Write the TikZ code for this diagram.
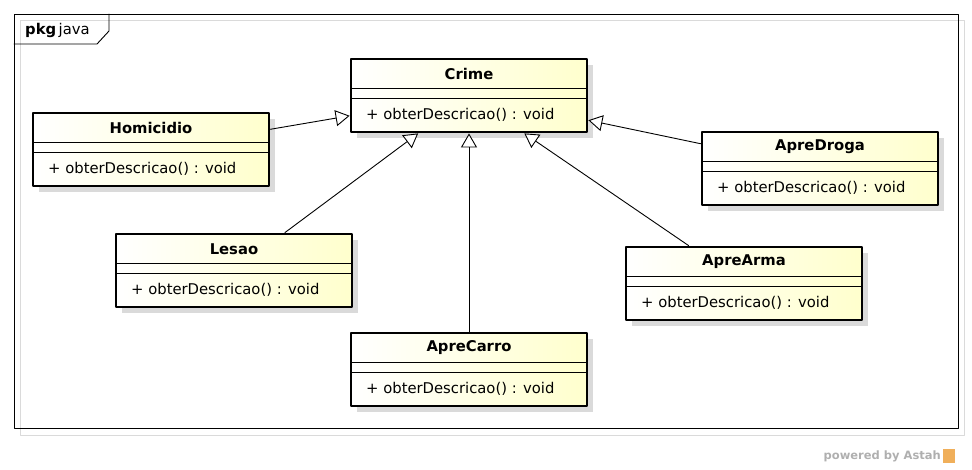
\documentclass[tikz,border=0pt]{standalone}
\usepackage{fontspec}
\setmainfont{DejaVu Sans}
\usepackage{xcolor}
\usetikzlibrary{positioning,arrows.meta}

\definecolor{umlyellow}{RGB}{255,255,205}
\definecolor{shadowgray}{RGB}{218,218,218}
\definecolor{astahgray}{RGB}{175,175,175}
\definecolor{astahorange}{RGB}{240,175,90}

\begin{document}
\begin{tikzpicture}[x=1pt, y=-1pt, line cap=round, line join=round,
		font=\fontsize{14.8}{18}\selectfont,
		classbox/.style={draw, line width=2.8pt, minimum width=236pt, minimum height=73pt,
			inner sep=0pt, left color=white, right color=umlyellow},
		generalization/.style={-{Triangle[fill=white, length=14pt, width=16pt]}, line width=0.9pt}]
		\useasboundingbox (0,0) rectangle (972,469);
		
		% package frame
		\draw[shadowgray, line width=0.9pt] (20,20) rectangle (964,435);
		\draw[line width=0.9pt] (14,14) rectangle (958,428);
		\draw[line width=0.9pt] (14,44) -- (97,44) -- (109,31) -- (109,14);
		\node[anchor=west, inner sep=0pt] (pkg) at (25,30) {\textbf{pkg}\,java};
		
		% classes
		\foreach \nm/\x/\y/\ttl in {crime/351/59/Crime, homicidio/33/113/Homicidio,
			lesao/116/234/Lesao, aprecarro/351/333/ApreCarro,
			aprearma/626/247/ApreArma, apredroga/702/132/ApreDroga}
		{
			\fill[shadowgray] (\x+6,\y+6) rectangle ++(236,73);
			\node[classbox] (\nm) at (\x+118,\y+36.5) {};
			\node[font=\fontsize{14.8}{18}\selectfont\bfseries] (\nm-name) at (\x+118,\y+15) {\ttl};
			\draw[line width=0.9pt] (\x,\y+29) -- ++(236,0);
			\draw[line width=0.9pt] (\x,\y+39) -- ++(236,0);
			\node[anchor=west, inner sep=0pt] (\nm-op) at (\x+15,\y+56) {+ obterDescricao() : void};
		}
		
		% inheritance
		\draw[generalization] (homicidio) -- (crime);
		\draw[generalization] (lesao) -- (crime);
		\draw[generalization] (aprecarro) -- (crime);
		\draw[generalization] (aprearma) -- (crime);
		\draw[generalization] (apredroga) -- (crime);
		
		% footer
		\node[anchor=east, inner sep=0pt, text=astahgray, font=\fontsize{11.5}{13}\selectfont\bfseries] (powered) at (941,456) {powered by Astah};
		\fill[astahorange] (943,449) rectangle (955,463);
	\end{tikzpicture}
\end{document}
